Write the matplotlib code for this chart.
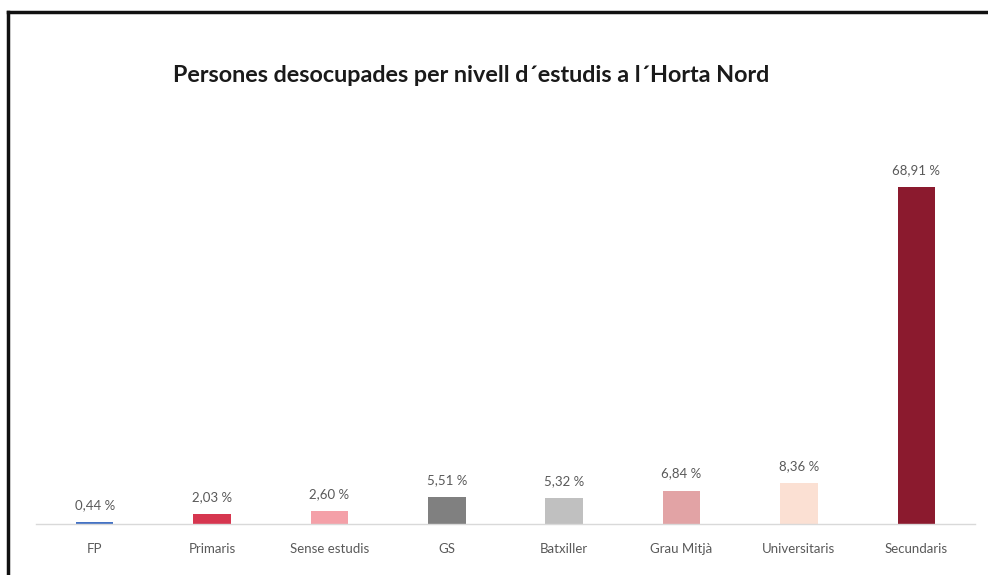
import matplotlib
matplotlib.use("Agg")
import matplotlib.pyplot as plt
from matplotlib.lines import Line2D

categories = ["FP", "Primaris", "Sense estudis", "GS", "Batxiller", "Grau Mitjà", "Universitaris", "Secundaris"]
values = [0.44, 2.03, 2.60, 5.51, 5.32, 6.84, 8.36, 68.91]
labels = ["0,44 %", "2,03 %", "2,60 %", "5,51 %", "5,32 %", "6,84 %", "8,36 %", "68,91 %"]
colors = ["#4472C4", "#D6364F", "#F4A0A8", "#808080", "#C0C0C0", "#E2A3A5", "#FBE0D3", "#8B1A2E"]
title = "Persones desocupades per nivell d´estudis a l´Horta Nord"

plt.rcParams['font.family'] = ['Lato', 'DejaVu Sans']

W, H = 988, 575
fig = plt.figure(figsize=(W/100, H/100), dpi=100)
ax = fig.add_axes([36/W, (H-524)/H, (975-36)/W, (524-100)/H])

x = list(range(len(categories)))
ax.bar(x, values, width=0.32, color=colors, zorder=2)
for xi, v, lab in zip(x, values, labels):
    ax.annotate(lab, (xi, v), xytext=(0, 8), textcoords="offset points",
                ha="center", va="bottom", fontsize=9.5, color="#595959")

ax.set_xlim(-0.5, 7.5)
ax.set_ylim(0, 86.7)
ax.set_xticks(x)
ax.set_xticklabels(categories, fontsize=9.5, color="#595959")
ax.tick_params(axis="x", length=0, pad=14)
ax.set_yticks([])
for s in ["top", "right", "left"]:
    ax.spines[s].set_visible(False)
ax.spines["bottom"].set_color("#D9D9D9")
ax.spines["bottom"].set_linewidth(1.0)

fig.text(471/W, 1-75/H, title, ha="center", va="center", fontsize=16.8,
         fontweight="bold", color="#1a1a1a")

# frame lines (top and left)
fig.add_artist(Line2D([8/W, 1], [1-12/H, 1-12/H], color="#111111", lw=2.5, transform=fig.transFigure))
fig.add_artist(Line2D([8/W, 8/W], [0, 1-12/H], color="#111111", lw=2.5, transform=fig.transFigure))

fig.savefig("out.png", dpi=100)
